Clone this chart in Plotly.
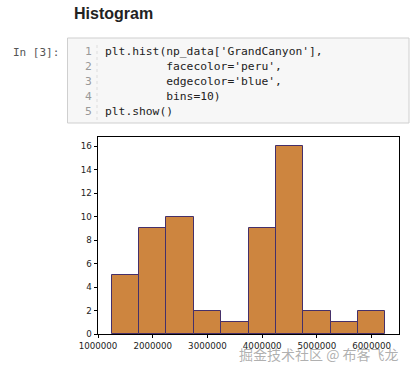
import plotly.graph_objects as go

W, H = 410, 371

# histogram data
bin_edges = [1250000, 1750000, 2250000, 2750000, 3250000, 3750000,
             4250000, 4750000, 5250000, 5750000, 6250000]
counts = [5, 9, 10, 2, 1, 9, 16, 2, 1, 2]
x_ticks = [1000000, 2000000, 3000000, 4000000, 5000000, 6000000]
y_ticks = [0, 2, 4, 6, 8, 10, 12, 14, 16]

code_lines = [
    "plt.hist(np_data['GrandCanyon'],",
    "         facecolor='peru',",
    "         edgecolor='blue',",
    "         bins=10)",
    "plt.show()",
]

centers = [(a + b) / 2 for a, b in zip(bin_edges[:-1], bin_edges[1:])]
widths = [b - a for a, b in zip(bin_edges[:-1], bin_edges[1:])]


def px(x):
    return x / W


def py(y):
    return 1 - y / H


fig = go.Figure()
fig.add_trace(go.Bar(
    x=centers, y=counts, width=widths,
    marker=dict(color="#CD853F", line=dict(color="#45306a", width=1)),
    hoverinfo="x+y",
))

plot_l, plot_r, plot_t, plot_b = 98, 399, 137, 334

axis_common = dict(
    showline=True, linecolor="black", linewidth=0.8, mirror=True,
    ticks="outside", ticklen=3.5, tickwidth=0.8, tickcolor="black",
    showgrid=False, zeroline=False, automargin=False,
    tickfont=dict(family="DejaVu Sans", size=8.7, color="#222"),
)

fig.update_layout(
    width=W, height=H,
    margin=dict(l=0, r=0, t=0, b=0, pad=0),
    paper_bgcolor="white", plot_bgcolor="white",
    showlegend=False,
    bargap=0,
    xaxis=dict(domain=[px(plot_l), px(plot_r)], range=[1000000, 6500000],
               tickvals=x_ticks, ticktext=[str(v) for v in x_ticks],
               **axis_common),
    yaxis=dict(domain=[1 - plot_b / H, 1 - plot_t / H], range=[0, 16.8],
               tickvals=y_ticks, ticktext=[str(v) for v in y_ticks],
               **axis_common),
)

shapes = [
    dict(type="rect", xref="paper", yref="paper",
         x0=px(67.5), x1=px(409), y0=py(123), y1=py(38),
         fillcolor="#f7f7f7", line=dict(color="#cfcfcf", width=1), layer="below"),
    dict(type="line", xref="paper", yref="paper",
         x0=px(97), x1=px(97), y0=py(120), y1=py(42),
         line=dict(color="#dddddd", width=1, dash="dot")),
]
fig.update_layout(shapes=shapes)

ann = []
ann.append(dict(text="<b>Histogram</b>", x=px(72), y=py(13), xref="paper", yref="paper",
                xanchor="left", yanchor="middle", showarrow=False,
                font=dict(family="Liberation Sans", size=16, color="#222")))
ann.append(dict(text="In\u00a0[3]:", x=px(61), y=py(52), xref="paper", yref="paper",
                xanchor="right", yanchor="middle", showarrow=False,
                font=dict(family="DejaVu Sans Mono", size=11, color="#555")))
line_y = [51.7, 66.5, 81.2, 96.5, 111]
for i, (t, yy) in enumerate(zip(code_lines, line_y)):
    ann.append(dict(text=str(i + 1), x=px(94), y=py(yy), xref="paper", yref="paper",
                    xanchor="right", yanchor="middle", showarrow=False,
                    font=dict(family="DejaVu Sans Mono", size=11.3, color="#999")))
    ann.append(dict(text=t.replace(" ", "\u00a0"), x=px(102.5), y=py(yy),
                    xref="paper", yref="paper",
                    xanchor="left", yanchor="middle", showarrow=False,
                    font=dict(family="DejaVu Sans Mono", size=11.3, color="#222")))
ann.append(dict(text="掘金技术社区 @ 布客飞龙", x=px(401), y=py(354), xref="paper", yref="paper",
                xanchor="right", yanchor="middle", showarrow=False,
                font=dict(family="Noto Sans CJK SC", size=14, color="rgba(150,150,150,0.75)")))
fig.update_layout(annotations=ann)

fig.write_html("out.html",
               config={"displayModeBar": False},
               post_script="document.body.style.margin='0';document.body.style.overflow='hidden';")
